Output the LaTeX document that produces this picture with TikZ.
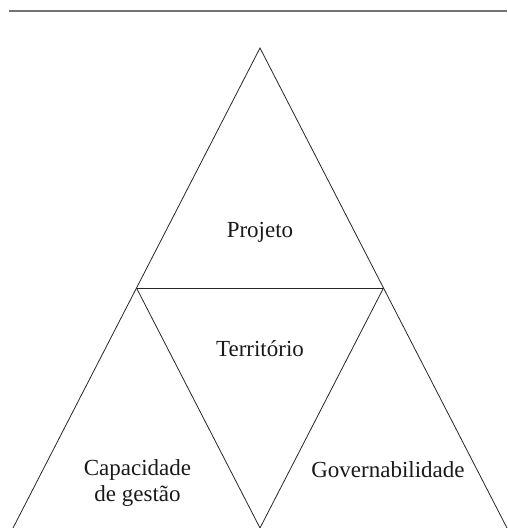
\documentclass[tikz,border=0pt]{standalone}
\usepackage{fontspec}
\setmainfont{Liberation Serif}
\begin{document}
\begin{tikzpicture}[x=1pt,y=1pt,
  edge/.style={draw=black!85,line width=0.8pt},
  rule/.style={draw=black!55,line width=1.6pt},
  lbl/.style={font=\fontsize{23}{25.5}\selectfont,align=center,text=black!90,inner sep=0pt}]
\useasboundingbox (0,0) rectangle (507,528);
\coordinate (r1) at (9,517);
\coordinate (r2) at (507,517);
\draw[rule] (r1) -- (r2);
\coordinate (A) at (260,480);
\coordinate (L) at (13,0);
\coordinate (R) at (507,0);
\coordinate (ML) at (136.5,240);
\coordinate (MR) at (383.5,240);
\coordinate (MB) at (260,0);
\draw[edge] (L) -- (A) -- (R);
\draw[edge] (ML) -- (MR);
\draw[edge] (ML) -- (MB) -- (MR);
\node[lbl] (projeto) at (260,296) {Projeto};
\node[lbl] (territorio) at (260,179) {Território};
\node[lbl] (capacidade) at (137.5,45) {Capacidade\\de gestão};
\node[lbl] (govern) at (388,58) {Governabilidade};
\end{tikzpicture}
\end{document}
